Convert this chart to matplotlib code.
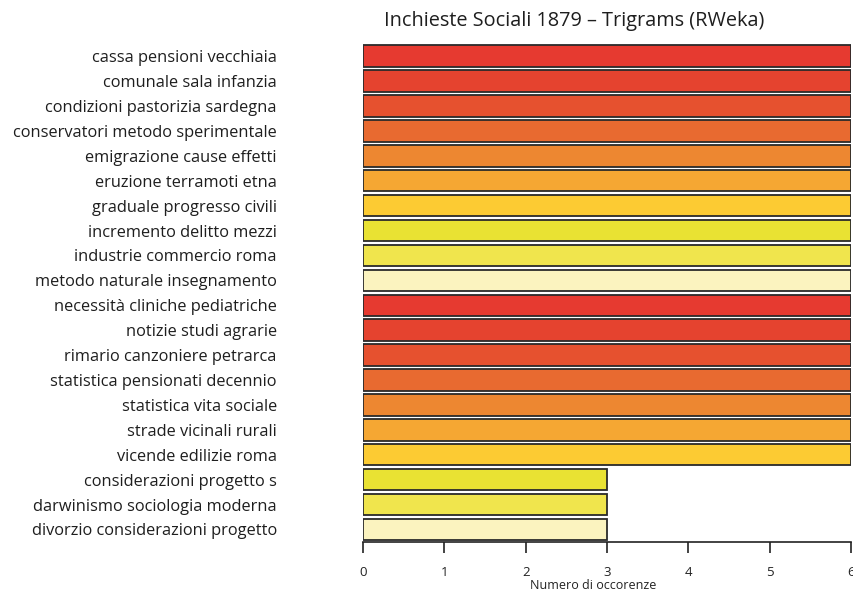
import numpy as np
import matplotlib.pyplot as plt

plt.rcParams['font.family'] = ['Open Sans', 'DejaVu Sans']

trigrams = [
    "cassa pensioni vecchiaia",
    "comunale sala infanzia",
    "condizioni pastorizia sardegna",
    "conservatori metodo sperimentale",
    "emigrazione cause effetti",
    "eruzione terramoti etna",
    "graduale progresso civili",
    "incremento delitto mezzi",
    "industrie commercio roma",
    "metodo naturale insegnamento",
    "necessità cliniche pediatriche",
    "notizie studi agrarie",
    "rimario canzoniere petrarca",
    "statistica pensionati decennio",
    "statistica vita sociale",
    "strade vicinali rurali",
    "vicende edilizie roma",
    "considerazioni progetto s",
    "darwinismo sociologia moderna",
    "divorzio considerazioni progetto",
]
counts = [6, 6, 6, 6, 6, 6, 6, 6, 6, 6, 6, 6, 6, 6, 6, 6, 6, 3, 3, 3]

# ten colours, recycled along the bars
palette = ["#E63A30", "#E5432F", "#E6512F", "#E86A30", "#ED8731",
           "#F5A733", "#FCCB33", "#E9E233", "#F0E54D", "#FBF3BF"]
colors = [palette[i % len(palette)] for i in range(len(trigrams))]

fig = plt.figure(figsize=(8.54, 5.91), dpi=100)
ax = fig.add_axes([0.425, 0.083, 0.5715, 0.843])

y = np.arange(len(trigrams))
ax.barh(y, counts, height=0.86, color=colors, edgecolor="#2a2a2a", linewidth=1.3)

ax.set_ylim(len(trigrams) - 0.5, -0.5)
ax.set_xlim(0, 6)
ax.set_yticks(y)
ax.set_yticklabels(trigrams, fontsize=11.8, color="#1e1e1e")
ax.tick_params(axis="y", length=0, pad=62)
ax.set_xticks(range(7))
ax.tick_params(axis="x", length=8, width=1.2, labelsize=9.5, pad=9, colors="#222222")

for s in ["top", "right", "left"]:
    ax.spines[s].set_visible(False)
ax.spines["bottom"].set_linewidth(1.2)
ax.spines["bottom"].set_color("#222222")

ax.set_xlabel("Numero di occorenze", fontsize=9, color="#222222")
ax.xaxis.set_label_coords(0.471, -0.075)
fig.text(0.672, 0.965, "Inchieste Sociali 1879 \u2013 Trigrams (RWeka)",
         ha="center", va="center", fontsize=14.3, color="#1e1e1e")

fig.savefig("out.png", dpi=100)
